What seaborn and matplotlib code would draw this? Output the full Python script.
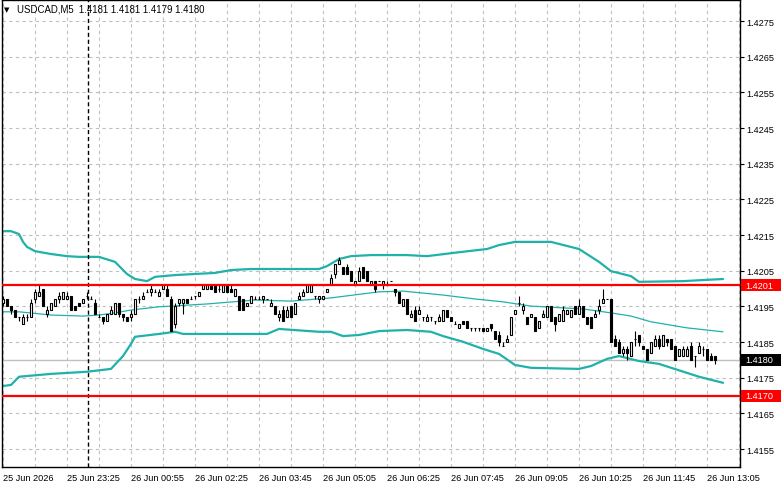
import matplotlib
matplotlib.use("Agg")
from matplotlib import pyplot as plt
from matplotlib import transforms
from matplotlib.patches import Rectangle
import numpy as np
import pandas as pd
import seaborn as sns

# --------------------------------------------------------
# Data (USDCAD, M5)
# --------------------------------------------------------
SYMBOL = "USDCAD,M5"
LAST_OHLC = ["1.4181", "1.4181", "1.4179", "1.4180"]

OPEN = [
    1.4196, 1.4197, 1.4195, 1.4194, 1.4192, 1.4190, 1.4192, 1.4192, 1.4197, 1.4198,
    1.4200, 1.4193, 1.4194, 1.4195, 1.4197, 1.4197, 1.4197, 1.4198, 1.4195, 1.4196,
    1.4196, 1.4198, 1.4197, 1.4196, 1.4192, 1.4192, 1.4191, 1.4193, 1.4193, 1.4196,
    1.4193, 1.4192, 1.4192, 1.4193, 1.4197, 1.4197, 1.4199, 1.4199, 1.4199, 1.4198,
    1.4200, 1.4200, 1.4197, 1.4190, 1.4196, 1.4196, 1.4197, 1.4197, 1.4198, 1.4198,
    1.4200, 1.4200, 1.4201, 1.4201, 1.4200, 1.4199, 1.4201, 1.4200, 1.4198, 1.4198,
    1.4197, 1.4195, 1.4196, 1.4197, 1.4197, 1.4197, 1.4197, 1.4195, 1.4195, 1.4192,
    1.4194, 1.4192, 1.4195, 1.4193, 1.4197, 1.4198, 1.4199, 1.4199, 1.4198, 1.4197,
    1.4197, 1.4199, 1.4201, 1.4204, 1.4207, 1.4206, 1.4206, 1.4205, 1.4201, 1.4202,
    1.4206, 1.4205, 1.4201, 1.4202, 1.4202, 1.4201, 1.4201, 1.4202, 1.4200, 1.4199,
    1.4195, 1.4197, 1.4192, 1.4194, 1.4193, 1.4192, 1.4191, 1.4192, 1.4191, 1.4191,
    1.4191, 1.4194, 1.4192, 1.4190, 1.4189, 1.4191, 1.4191, 1.4189, 1.4189, 1.4189,
    1.4189, 1.4188, 1.4190, 1.4188, 1.4187, 1.4184, 1.4185, 1.4187, 1.4193, 1.4196,
    1.4194, 1.4192, 1.4192, 1.4192, 1.4189, 1.4192, 1.4192, 1.4195, 1.4192, 1.4191,
    1.4191, 1.4193, 1.4192, 1.4195, 1.4193, 1.4195, 1.4192, 1.4192, 1.4192, 1.4194,
    1.4196, 1.4197, 1.4197, 1.4186, 1.4185, 1.4182, 1.4183, 1.4181, 1.4186, 1.4187,
    1.4184, 1.4183, 1.4182, 1.4184, 1.4186, 1.4184, 1.4186, 1.4186, 1.4184, 1.4181,
    1.4181, 1.4181, 1.4184, 1.4181, 1.4182, 1.4183, 1.4183, 1.4181, 1.4181,
]
CLOSE = [
    1.4197, 1.4195, 1.4194, 1.4192, 1.4192, 1.4192, 1.4192, 1.4196, 1.4199, 1.4199,
    1.4195, 1.4194, 1.4196, 1.4197, 1.4198, 1.4199, 1.4198, 1.4194, 1.4194, 1.4195,
    1.4197, 1.4198, 1.4197, 1.4193, 1.4192, 1.4191, 1.4193, 1.4194, 1.4196, 1.4193,
    1.4192, 1.4191, 1.4193, 1.4197, 1.4197, 1.4198, 1.4199, 1.4200, 1.4199, 1.4199,
    1.4201, 1.4198, 1.4188, 1.4195, 1.4197, 1.4197, 1.4196, 1.4197, 1.4198, 1.4199,
    1.4201, 1.4201, 1.4200, 1.4199, 1.4200, 1.4201, 1.4199, 1.4199, 1.4200, 1.4194,
    1.4194, 1.4196, 1.4198, 1.4197, 1.4197, 1.4198, 1.4197, 1.4196, 1.4193, 1.4193,
    1.4191, 1.4194, 1.4192, 1.4196, 1.4198, 1.4199, 1.4201, 1.4201, 1.4198, 1.4198,
    1.4198, 1.4200, 1.4203, 1.4207, 1.4208, 1.4204, 1.4204, 1.4202, 1.4202, 1.4205,
    1.4203, 1.4202, 1.4202, 1.4200, 1.4202, 1.4202, 1.4201, 1.4202, 1.4199, 1.4196,
    1.4197, 1.4193, 1.4193, 1.4191, 1.4194, 1.4192, 1.4192, 1.4192, 1.4191, 1.4192,
    1.4194, 1.4192, 1.4191, 1.4190, 1.4190, 1.4190, 1.4189, 1.4189, 1.4189, 1.4189,
    1.4188, 1.4189, 1.4189, 1.4186, 1.4185, 1.4184, 1.4186, 1.4192, 1.4194, 1.4196,
    1.4195, 1.4190, 1.4193, 1.4188, 1.4191, 1.4193, 1.4195, 1.4191, 1.4190, 1.4193,
    1.4194, 1.4194, 1.4194, 1.4193, 1.4195, 1.4192, 1.4190, 1.4189, 1.4193, 1.4195,
    1.4197, 1.4197, 1.4185, 1.4184, 1.4182, 1.4183, 1.4182, 1.4185, 1.4186, 1.4185,
    1.4183, 1.4180, 1.4185, 1.4186, 1.4184, 1.4187, 1.4185, 1.4183, 1.4180, 1.4183,
    1.4183, 1.4183, 1.4180, 1.4181, 1.4184, 1.4183, 1.4180, 1.4180, 1.4180,
]
HIGH = [
    1.4198, 1.4197, 1.4195, 1.4194, 1.4192, 1.4193, 1.4193, 1.4197, 1.4200, 1.4201,
    1.4200, 1.4195, 1.4196, 1.4197, 1.4199, 1.4199, 1.4199, 1.4198, 1.4195, 1.4196,
    1.4197, 1.4199, 1.4198, 1.4197, 1.4193, 1.4192, 1.4193, 1.4195, 1.4196, 1.4196,
    1.4193, 1.4192, 1.4194, 1.4197, 1.4198, 1.4199, 1.4200, 1.4201, 1.4200, 1.4200,
    1.4201, 1.4201, 1.4198, 1.4196, 1.4197, 1.4197, 1.4197, 1.4198, 1.4198, 1.4199,
    1.4201, 1.4201, 1.4201, 1.4201, 1.4201, 1.4201, 1.4201, 1.4201, 1.4200, 1.4198,
    1.4197, 1.4196, 1.4198, 1.4198, 1.4198, 1.4198, 1.4197, 1.4197, 1.4195, 1.4194,
    1.4195, 1.4195, 1.4195, 1.4196, 1.4199, 1.4200, 1.4201, 1.4201, 1.4198, 1.4198,
    1.4198, 1.4200, 1.4204, 1.4207, 1.4209, 1.4206, 1.4207, 1.4205, 1.4202, 1.4206,
    1.4206, 1.4205, 1.4202, 1.4202, 1.4202, 1.4202, 1.4202, 1.4202, 1.4200, 1.4199,
    1.4197, 1.4197, 1.4194, 1.4195, 1.4195, 1.4192, 1.4193, 1.4192, 1.4191, 1.4193,
    1.4194, 1.4194, 1.4192, 1.4191, 1.4190, 1.4191, 1.4191, 1.4189, 1.4189, 1.4189,
    1.4189, 1.4189, 1.4190, 1.4188, 1.4188, 1.4185, 1.4187, 1.4192, 1.4194, 1.4198,
    1.4196, 1.4192, 1.4193, 1.4192, 1.4191, 1.4194, 1.4195, 1.4195, 1.4192, 1.4193,
    1.4195, 1.4194, 1.4194, 1.4195, 1.4197, 1.4195, 1.4192, 1.4192, 1.4194, 1.4197,
    1.4200, 1.4197, 1.4197, 1.4187, 1.4186, 1.4184, 1.4184, 1.4185, 1.4188, 1.4187,
    1.4184, 1.4183, 1.4185, 1.4187, 1.4187, 1.4187, 1.4186, 1.4186, 1.4184, 1.4183,
    1.4184, 1.4184, 1.4185, 1.4181, 1.4185, 1.4184, 1.4183, 1.4182, 1.4181,
]
LOW = [
    1.4195, 1.4195, 1.4193, 1.4192, 1.4191, 1.4190, 1.4191, 1.4192, 1.4196, 1.4198,
    1.4195, 1.4192, 1.4194, 1.4195, 1.4196, 1.4197, 1.4197, 1.4194, 1.4194, 1.4195,
    1.4196, 1.4197, 1.4197, 1.4193, 1.4192, 1.4190, 1.4191, 1.4193, 1.4193, 1.4192,
    1.4191, 1.4191, 1.4191, 1.4193, 1.4196, 1.4197, 1.4199, 1.4198, 1.4199, 1.4198,
    1.4200, 1.4198, 1.4188, 1.4189, 1.4195, 1.4193, 1.4196, 1.4197, 1.4197, 1.4198,
    1.4200, 1.4200, 1.4200, 1.4199, 1.4199, 1.4199, 1.4199, 1.4199, 1.4198, 1.4194,
    1.4194, 1.4195, 1.4196, 1.4197, 1.4197, 1.4196, 1.4197, 1.4195, 1.4193, 1.4191,
    1.4191, 1.4192, 1.4192, 1.4193, 1.4197, 1.4198, 1.4199, 1.4199, 1.4197, 1.4196,
    1.4197, 1.4199, 1.4201, 1.4203, 1.4207, 1.4204, 1.4204, 1.4202, 1.4201, 1.4202,
    1.4203, 1.4202, 1.4201, 1.4199, 1.4202, 1.4200, 1.4201, 1.4202, 1.4198, 1.4196,
    1.4195, 1.4193, 1.4192, 1.4191, 1.4193, 1.4191, 1.4191, 1.4191, 1.4190, 1.4191,
    1.4191, 1.4192, 1.4191, 1.4190, 1.4189, 1.4190, 1.4189, 1.4188, 1.4188, 1.4188,
    1.4188, 1.4188, 1.4188, 1.4186, 1.4184, 1.4184, 1.4185, 1.4187, 1.4193, 1.4195,
    1.4193, 1.4190, 1.4192, 1.4188, 1.4189, 1.4192, 1.4192, 1.4191, 1.4188, 1.4191,
    1.4191, 1.4193, 1.4192, 1.4193, 1.4193, 1.4192, 1.4190, 1.4189, 1.4192, 1.4193,
    1.4196, 1.4197, 1.4185, 1.4184, 1.4182, 1.4181, 1.4180, 1.4181, 1.4184, 1.4184,
    1.4183, 1.4180, 1.4182, 1.4184, 1.4183, 1.4184, 1.4184, 1.4183, 1.4180, 1.4181,
    1.4181, 1.4181, 1.4180, 1.4178, 1.4182, 1.4181, 1.4180, 1.4180, 1.4179,
]

# Bollinger bands, sampled at bar numbers
UPPER_BAR = [0, 2, 4, 5, 6, 8, 12, 16, 19, 24, 28, 31, 33, 36, 38, 43, 53, 57, 62, 79,
             81, 84, 87, 92, 101, 106, 114, 121, 124, 128, 137, 144, 149, 152, 157, 159, 170, 180]
UPPER = [1.42161, 1.42161, 1.42153, 1.42131, 1.42117, 1.42105, 1.42097, 1.42091, 1.42089, 1.42089,
         1.42075, 1.42041, 1.42027, 1.42021, 1.42033, 1.42038, 1.42044, 1.42052, 1.42055, 1.42055,
         1.42063, 1.42083, 1.42091, 1.42094, 1.42094, 1.42091, 1.42102, 1.42111, 1.42122, 1.42131,
         1.42131, 1.42111, 1.42075, 1.42049, 1.42035, 1.42019, 1.42021, 1.42027]
MIDDLE_BAR = [0, 4, 12, 20, 24, 28, 32, 39, 51, 63, 72, 82, 94, 100, 110, 118, 125, 132,
              145, 152, 157, 162, 171, 180]
MIDDLE = [1.41935, 1.41935, 1.41926, 1.41923, 1.41926, 1.41932, 1.41940, 1.41949, 1.41957,
          1.41968, 1.41965, 1.41974, 1.41991, 1.41993, 1.41982, 1.41971, 1.41963, 1.41951,
          1.41943, 1.41932, 1.41923, 1.41907, 1.41890, 1.41879]
LOWER_BAR = [0, 2, 4, 12, 21, 27, 30, 32, 33, 39, 43, 45, 66, 69, 79, 82, 85, 89, 94, 101,
             107, 110, 115, 120, 124, 128, 132, 144, 147, 151, 154, 159, 164, 174, 180]
LOWER = [1.41727, 1.41730, 1.41753, 1.41761, 1.41767, 1.41775, 1.41811, 1.41845, 1.41865, 1.41873,
         1.41879, 1.41873, 1.41873, 1.41887, 1.41879, 1.41879, 1.41867, 1.41870, 1.41881, 1.41884,
         1.41879, 1.41867, 1.41851, 1.41831, 1.41817, 1.41786, 1.41778, 1.41775, 1.41783, 1.41803,
         1.41811, 1.41797, 1.41789, 1.41753, 1.41736]

TIME_LABELS = ["25 Jun 2026", "25 Jun 23:25", "26 Jun 00:55", "26 Jun 02:25",
               "26 Jun 03:45", "26 Jun 05:05", "26 Jun 06:25", "26 Jun 07:45",
               "26 Jun 09:05", "26 Jun 10:25", "26 Jun 11:45", "26 Jun 13:05"]
LABEL_EVERY = 16
GRID_EVERY = 8
DAY_BREAK = 21.25

PRICE_TICKS = [1.4155, 1.4165, 1.4175, 1.4185, 1.4195, 1.4205,
               1.4215, 1.4225, 1.4235, 1.4245, 1.4255, 1.4265, 1.4275]
LEVELS = [1.4201, 1.4170]
LAST_PRICE = 1.4180

# --------------------------------------------------------
# Plot
# --------------------------------------------------------
sns.set_style("white")
plt.rcParams["font.family"] = ["Liberation Sans", "DejaVu Sans"]

W, H = 781, 489
fig = plt.figure(figsize=(W / 100, H / 100), dpi=100)
ax = fig.add_axes([2 / W, 21 / H, 738 / W, 467 / H])

df = pd.DataFrame({"open": OPEN, "high": HIGH, "low": LOW, "close": CLOSE})
df["bar"] = np.arange(len(df))
bull = df["close"] >= df["open"]

teal = "#20B2AA"
grid_c = "#C0C0C0"

# grid
ax.set_xlim(-0.25, 184.25)
ax.set_ylim(1.41500, 1.42809)
ax.set_xticks(np.arange(0, len(TIME_LABELS) * LABEL_EVERY, LABEL_EVERY))
ax.set_xticklabels(TIME_LABELS)
ax.set_xticks(np.arange(GRID_EVERY, len(TIME_LABELS) * LABEL_EVERY, LABEL_EVERY), minor=True)
ax.set_yticks(PRICE_TICKS)
ax.set_yticklabels([f"{p:.4f}" for p in PRICE_TICKS])
ax.grid(True, which="both", axis="x", color=grid_c, ls=(0, (3, 3)), lw=0.8)
ax.grid(True, which="major", axis="y", color=grid_c, ls=(0, (3, 3)), lw=0.8)
ax.set_axisbelow(True)

# current price line
ax.axhline(LAST_PRICE, color=grid_c, lw=1, zorder=1)

# bollinger bands
sns.lineplot(x=UPPER_BAR, y=UPPER, ax=ax, color=teal, lw=1.6, zorder=2)
sns.lineplot(x=MIDDLE_BAR, y=MIDDLE, ax=ax, color=teal, lw=0.9, zorder=2)
sns.lineplot(x=LOWER_BAR, y=LOWER, ax=ax, color=teal, lw=1.6, zorder=2)

# candles
ax.vlines(df["bar"], df["low"], df["high"], color="black", lw=0.8, zorder=3)
body_lo = df[["open", "close"]].min(axis=1)
body_h = (df["close"] - df["open"]).abs()
ax.bar(df["bar"], body_h, bottom=body_lo, width=0.68,
       color=np.where(bull, "white", "black"), edgecolor="black",
       linewidth=0.8, zorder=4)

# day separator
ax.axvline(DAY_BREAK, color="black", ls=(0, (3, 2)), lw=1, zorder=5)

# horizontal levels and price tags
tag_tr = transforms.blended_transform_factory(fig.transFigure, ax.transData)
tag_h = 12 / 35.67 * 0.001
for level in LEVELS:
    ax.axhline(level, color="red", lw=1.6, zorder=6)
for price, fc in [(LEVELS[0], "red"), (LEVELS[1], "red"), (LAST_PRICE, "black")]:
    fig.add_artist(Rectangle((741 / W, price - tag_h / 2), 40 / W, tag_h,
                             transform=tag_tr, facecolor=fc, edgecolor="none",
                             clip_on=False, zorder=10))
    fig.text(745 / W, price, f"{price:.4f}", transform=tag_tr, color="white",
             fontsize=6.6, va="center", ha="left", zorder=11)

# axes styling
for s in ax.spines.values():
    s.set_color("black")
    s.set_linewidth(1)
ax.yaxis.tick_right()
ax.tick_params(axis="y", which="major", direction="out", length=3, width=0.8,
               pad=1.5, labelsize=6.6, colors="black")
ax.tick_params(axis="x", which="major", direction="out", length=3, width=0.8,
               pad=1.5, labelsize=6.6, colors="black")
ax.tick_params(axis="x", which="minor", length=0)
for lbl in ax.get_xticklabels():
    lbl.set_horizontalalignment("left")
ax.set_xlabel("")
ax.set_ylabel("")

# header
fig.text(4 / W, 1 - 10 / H, "\u25BC", fontsize=5, va="center", ha="left",
         family="DejaVu Sans", color="black")
fig.text(17 / W, 1 - 10 / H, f"{SYMBOL}  " + " ".join(LAST_OHLC),
         fontsize=6.9, va="center", ha="left", color="black")

fig.savefig("out.png", dpi=100)
